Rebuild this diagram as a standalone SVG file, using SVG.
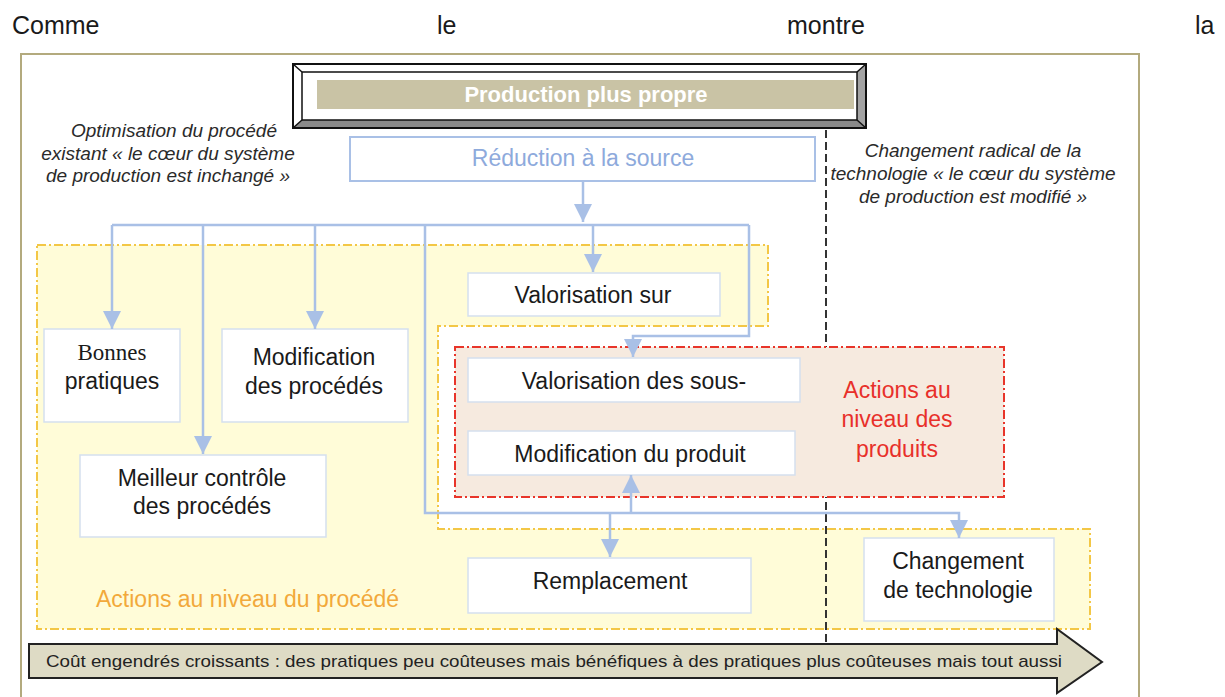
<svg xmlns="http://www.w3.org/2000/svg" width="1225" height="697" viewBox="0 0 1225 697">
<style>
text{font-family:"Liberation Sans",Arial,sans-serif;}
.t{font-size:23px;fill:#1a1a1a;text-anchor:middle;}
.it{font-size:19px;font-style:italic;fill:#2a2a2a;text-anchor:middle;}
.node{fill:#ffffff;stroke:#d5dfee;stroke-width:1.5;}
.con{fill:none;stroke:#a9c0e6;stroke-width:2.5;}
.red{fill:#e8302a;}
</style>
<defs>
<marker id="ah" markerUnits="userSpaceOnUse" markerWidth="20" markerHeight="20" refX="18" refY="9" orient="auto">
<path d="M0,0 L18,9 L0,18 Z" fill="#a9c0e6"/>
</marker>
</defs>
<rect width="1225" height="697" fill="#ffffff"/>
<text x="12" y="34" font-size="25" fill="#1a1a1a">Comme</text>
<text x="437" y="34" font-size="25" fill="#1a1a1a">le</text>
<text x="787" y="34" font-size="25" fill="#1a1a1a">montre</text>
<text x="1195" y="34" font-size="25" fill="#1a1a1a">la</text>
<rect x="21" y="54" width="1118" height="670" fill="none" stroke="#b3aa7e" stroke-width="2"/>

<g id="zone-procede">
<path d="M37,245 H768 V326 H438 V529 H1090 V629 H37 Z" fill="#fffcd8" stroke="#f3c746" stroke-width="2" stroke-dasharray="9,3,2,3"/>
<text x="96" y="607" font-size="23" fill="#f2a93b">Actions au niveau du procédé</text>
</g>
<line x1="826" y1="130" x2="826" y2="644" stroke="#333" stroke-width="2" stroke-dasharray="8,4"/>
<g id="zone-produits">
<rect x="455" y="347" width="549" height="150" fill="#f6eadf" stroke="#e8352a" stroke-width="2" stroke-dasharray="9,3,2,3"/>
<text class="t red" x="897" y="398" style="fill:#e8302a">Actions au</text>
<text class="t red" x="897" y="427" style="fill:#e8302a">niveau des</text>
<text class="t red" x="897" y="457" style="fill:#e8302a">produits</text>
</g>

<text class="it" x="174" y="137">Optimisation du procédé</text>
<text class="it" x="168" y="160">existant « le cœur du système</text>
<text class="it" x="168" y="182">de production est inchangé »</text>
<text class="it" x="973" y="157">Changement radical de la</text>
<text class="it" x="973" y="180">technologie « le cœur du système</text>
<text class="it" x="973" y="203">de production est modifié »</text>

<g id="production-plus-propre">
<rect x="293" y="64" width="573" height="64" fill="#ffffff"/>
<polygon points="866,64 866,128 857,120 857,72" fill="#a3a3a3"/>
<polygon points="293,128 302,120 857,120 866,128" fill="#8a8a8a"/>
<rect x="293" y="64" width="573" height="64" fill="none" stroke="#111" stroke-width="2"/>
<rect x="302" y="72" width="555" height="48" fill="none" stroke="#111" stroke-width="1.5"/>
<path d="M293,64 L302,72 M866,64 L857,72 M293,128 L302,120 M866,128 L857,120" stroke="#111" stroke-width="1.5"/>
<rect x="317" y="80" width="537" height="29" fill="#c9c3a5"/>
<text x="586" y="102" font-size="22" font-weight="bold" fill="#ffffff" text-anchor="middle">Production plus propre</text>
</g>

<g id="reduction">
<rect x="350" y="137" width="465" height="44" fill="#ffffff" stroke="#a9c0e6" stroke-width="2"/>
<text class="t" x="583" y="166" style="fill:#8eaadc">Réduction à la source</text>
</g>

<g id="bonnes-pratiques">
<rect class="node" x="44" y="329" width="136" height="93"/>
<text x="112" y="360" font-size="23" fill="#1a1a1a" text-anchor="middle" style="font-family:'Liberation Serif','Times New Roman',serif">Bonnes</text>
<text class="t" x="112" y="389">pratiques</text>
</g>
<g id="modification-procedes">
<rect class="node" x="222" y="329" width="186" height="93"/>
<text class="t" x="314" y="365">Modification</text>
<text class="t" x="314" y="394">des procédés</text>
</g>
<g id="meilleur-controle">
<rect class="node" x="80" y="455" width="246" height="82"/>
<text class="t" x="202" y="486">Meilleur contrôle</text>
<text class="t" x="202" y="514">des procédés</text>
</g>
<g id="valorisation-sur">
<rect class="node" x="468" y="273" width="252" height="43"/>
<text class="t" x="593" y="303">Valorisation sur</text>
</g>
<g id="valorisation-sous">
<rect class="node" x="468" y="358" width="332" height="44"/>
<text class="t" x="634" y="389">Valorisation des sous-</text>
</g>
<g id="modification-produit">
<rect class="node" x="468" y="431" width="327" height="44"/>
<text class="t" x="630" y="462">Modification du produit</text>
</g>
<g id="remplacement">
<rect class="node" x="468" y="558" width="283" height="55"/>
<text class="t" x="610" y="589">Remplacement</text>
</g>
<g id="changement-technologie">
<rect class="node" x="864" y="538" width="190" height="83"/>
<text class="t" x="958" y="569">Changement</text>
<text class="t" x="958" y="598">de technologie</text>
</g>

<g id="connectors">
<path class="con" d="M583,181 V222" marker-end="url(#ah)"/>
<path class="con" d="M112,225 H749"/>
<path class="con" d="M112,225 V329" marker-end="url(#ah)"/>
<path class="con" d="M203,225 V454" marker-end="url(#ah)"/>
<path class="con" d="M315,225 V329" marker-end="url(#ah)"/>
<path class="con" d="M593,225 V272" marker-end="url(#ah)"/>
<path class="con" d="M749,225 V336 H633 V357" marker-end="url(#ah)"/>
<path class="con" d="M425,225 V513 H959 V538" marker-end="url(#ah)"/>
<path class="con" d="M610,513 V557" marker-end="url(#ah)"/>
<path class="con" d="M631,513 V475" marker-end="url(#ah)"/>
</g>

<g id="cout-arrow">
<path d="M29,644 H1057 V629 L1102,662 L1057,693 V678 H29 Z" fill="#dedbc5" stroke="#222" stroke-width="2" stroke-linejoin="miter"/>
<text x="46" y="667" font-size="17" fill="#222" textLength="1016" lengthAdjust="spacingAndGlyphs">Coût engendrés croissants : des pratiques peu coûteuses mais bénéfiques à des pratiques plus coûteuses mais tout aussi</text>
</g>
</svg>
